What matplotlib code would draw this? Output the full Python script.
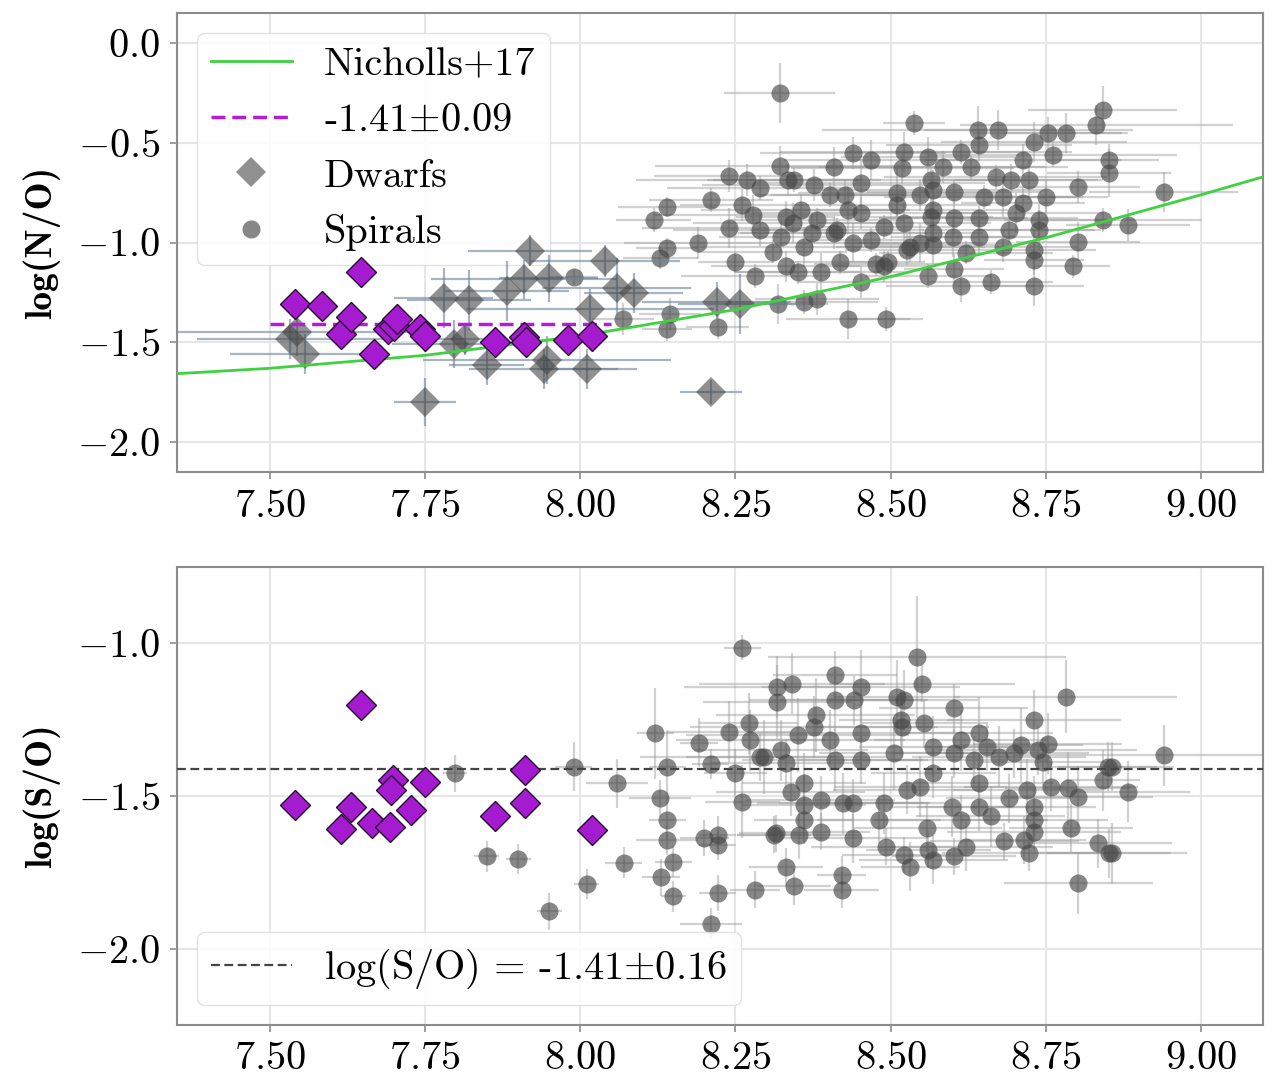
import matplotlib.pyplot as plt
import numpy as np

plt.rcParams['font.family'] = ['cmr10', 'DejaVu Serif']
plt.rcParams['mathtext.fontset'] = 'cm'
plt.rcParams['axes.formatter.use_mathtext'] = True

# --- Nicholls+17 curve
nich_x = [7.35, 7.50, 7.75, 8.00, 8.25, 8.50, 8.75, 9.00, 9.10]
nich_y = [-1.657, -1.630, -1.565, -1.468, -1.336, -1.171, -0.976, -0.761, -0.671]

# --- mean values
no_mean = -1.41
no_span = [7.50, 8.05]
so_mean = -1.41

# --- this sample (purple diamonds)
samp_no_x = [7.540, 7.584, 7.615, 7.630, 7.647, 7.667, 7.690, 7.700, 7.705, 7.742, 7.750, 7.863, 7.909, 7.912, 7.980, 8.018]
samp_no_y = [-1.31, -1.318, -1.46, -1.375, -1.15, -1.56, -1.435, -1.42, -1.385, -1.435, -1.47, -1.50, -1.475, -1.50, -1.49, -1.47]
samp_so_x = [7.540, 7.647, 7.630, 7.614, 7.664, 7.693, 7.698, 7.695, 7.727, 7.749, 7.863, 7.910, 7.910, 8.019]
samp_so_y = [-1.529, -1.203, -1.535, -1.609, -1.589, -1.600, -1.448, -1.480, -1.546, -1.453, -1.567, -1.415, -1.524, -1.611]

# --- dwarfs (top panel only)
dw_x = [7.532, 7.543, 7.556, 7.750, 7.780, 7.796, 7.814, 7.820, 7.849, 7.882, 7.909, 7.919,
        7.941, 7.946, 7.949, 8.011, 8.016, 8.040, 8.059, 8.086, 8.210, 8.220, 8.258]
dw_y = [-1.485, -1.45, -1.56, -1.80, -1.28, -1.51, -1.485, -1.29, -1.615, -1.243, -1.185, -1.04,
        -1.635, -1.59, -1.18, -1.635, -1.335, -1.093, -1.227, -1.252, -1.75, -1.30, -1.31]
dw_xerr = [0.15, 0.22, 0.12, 0.05, 0.08, 0.10, 0.06, 0.10, 0.06, 0.10, 0.15, 0.10,
           0.12, 0.20, 0.08, 0.08, 0.20, 0.12, 0.12, 0.08, 0.05, 0.12, 0.10]
dw_yerr = [0.10, 0.12, 0.10, 0.12, 0.15, 0.12, 0.08, 0.15, 0.10, 0.15, 0.10, 0.08,
           0.10, 0.12, 0.12, 0.10, 0.10, 0.08, 0.15, 0.10, 0.06, 0.10, 0.15]

# --- spirals, N/O
sp_no_x = [8.321, 8.239, 8.210, 8.140, 8.118, 8.140, 8.129, 8.190, 8.239, 8.269,
           8.290, 8.261, 8.279, 8.321, 8.334, 8.344, 8.376, 8.408, 8.440, 8.452,
           8.403, 8.331, 8.342, 8.382, 8.323, 8.310, 8.360, 8.408, 8.432, 8.452,
           8.419, 8.331, 8.350, 8.387, 8.250, 8.282, 8.452, 8.319, 8.360, 8.382,
           8.431, 8.492, 8.145, 8.140, 8.069, 8.221, 8.521, 8.519, 8.537, 8.511,
           8.489, 8.521, 8.527, 8.489, 8.440, 7.989, 8.640, 8.673, 8.642, 8.613,
           8.560, 8.585, 8.629, 8.731, 8.753, 8.782, 8.761, 8.713, 8.842, 8.831,
           8.852, 8.852, 8.802, 8.940, 8.669, 8.694, 8.723, 8.750, 8.650, 8.681,
           8.713, 8.602, 8.569, 8.548, 8.511, 8.565, 8.602, 8.642, 8.702, 8.739,
           8.739, 8.690, 8.642, 8.600, 8.569, 8.532, 8.569, 8.621, 8.681, 8.731,
           8.731, 8.802, 8.842, 8.882, 8.794, 8.602, 8.561, 8.613, 8.661, 8.731,
           8.495, 8.468, 8.427, 8.468, 8.355, 8.476, 8.290, 8.374, 8.565, 8.569,
           8.414, 8.548]
sp_no_y = [-0.25, -0.665, -0.785, -0.82, -0.885, -1.025, -1.075, -1.00, -0.925, -0.685,
           -0.725, -0.81, -0.86, -0.615, -0.685, -0.685, -0.71, -0.62, -0.55, -0.70,
           -0.76, -0.87, -0.90, -0.885, -0.97, -1.045, -1.02, -0.95, -0.835, -0.85,
           -1.10, -1.12, -1.15, -1.15, -1.10, -1.17, -1.20, -1.31, -1.30, -1.285,
           -1.385, -1.385, -1.36, -1.435, -1.385, -1.425, -0.545, -0.625, -0.40, -0.75,
           -0.92, -0.90, -1.035, -1.12, -1.00, -1.175, -0.435, -0.435, -0.51, -0.545,
           -0.57, -0.62, -0.62, -0.495, -0.45, -0.45, -0.56, -0.585, -0.335, -0.41,
           -0.585, -0.65, -0.72, -0.745, -0.67, -0.685, -0.685, -0.77, -0.77, -0.77,
           -0.80, -0.745, -0.735, -0.76, -0.81, -0.87, -0.875, -0.875, -0.85, -0.885,
           -0.935, -0.935, -0.97, -0.97, -0.95, -1.02, -1.01, -1.05, -1.02, -1.035,
           -1.085, -0.995, -0.885, -0.91, -1.12, -1.135, -1.17, -1.22, -1.20, -1.22,
           -1.10, -0.585, -0.76, -0.985, -0.835, -1.11, -0.935, -0.95, -0.685, -0.835,
           -0.935, -1.00]
sp_no_xerr = [0.09, 0.12, 0.10, 0.08, 0.06, 0.05, 0.06, 0.12, 0.14, 0.18,
              0.15, 0.10, 0.16, 0.20, 0.12, 0.14, 0.18, 0.10, 0.15, 0.20,
              0.12, 0.08, 0.16, 0.14, 0.10, 0.12, 0.18, 0.15, 0.10, 0.20,
              0.08, 0.12, 0.10, 0.14, 0.06, 0.12, 0.10, 0.08, 0.12, 0.10,
              0.10, 0.06, 0.05, 0.04, 0.05, 0.05, 0.20, 0.18, 0.05, 0.16,
              0.12, 0.14, 0.10, 0.08, 0.12, 0.04, 0.25, 0.12, 0.15, 0.18,
              0.14, 0.20, 0.12, 0.15, 0.12, 0.10, 0.20, 0.16, 0.12, 0.22,
              0.08, 0.10, 0.10, 0.12, 0.18, 0.14, 0.12, 0.10, 0.16, 0.12,
              0.10, 0.14, 0.18, 0.12, 0.15, 0.10, 0.12, 0.16, 0.14, 0.12,
              0.10, 0.14, 0.12, 0.10, 0.08, 0.12, 0.10, 0.14, 0.12, 0.10,
              0.08, 0.10, 0.16, 0.10, 0.06, 0.08, 0.10, 0.12, 0.10, 0.08,
              0.06, 0.14, 0.12, 0.10, 0.16, 0.10, 0.14, 0.12, 0.10, 0.12,
              0.14, 0.10]
sp_no_yerr = [0.15, 0.08, 0.06, 0.05, 0.06, 0.05, 0.06, 0.08, 0.10, 0.08,
              0.06, 0.08, 0.10, 0.10, 0.08, 0.06, 0.08, 0.10, 0.08, 0.12,
              0.06, 0.08, 0.10, 0.06, 0.08, 0.06, 0.10, 0.08, 0.12, 0.08,
              0.06, 0.08, 0.06, 0.10, 0.05, 0.06, 0.08, 0.10, 0.06, 0.08,
              0.10, 0.06, 0.08, 0.06, 0.08, 0.06, 0.10, 0.08, 0.06, 0.12,
              0.06, 0.10, 0.08, 0.08, 0.10, 0.04, 0.12, 0.10, 0.08, 0.06,
              0.10, 0.08, 0.06, 0.10, 0.08, 0.10, 0.06, 0.08, 0.12, 0.10,
              0.08, 0.12, 0.08, 0.10, 0.06, 0.08, 0.10, 0.08, 0.06, 0.10,
              0.08, 0.06, 0.10, 0.08, 0.06, 0.10, 0.08, 0.06, 0.10, 0.08,
              0.10, 0.06, 0.08, 0.10, 0.06, 0.08, 0.10, 0.06, 0.08, 0.10,
              0.08, 0.10, 0.06, 0.08, 0.06, 0.08, 0.06, 0.08, 0.06, 0.10,
              0.06, 0.10, 0.08, 0.06, 0.08, 0.06, 0.08, 0.10, 0.06, 0.08,
              0.06, 0.10]

# --- spirals, S/O
sp_so_x = [7.798, 7.849, 7.900, 7.950, 7.989, 8.010, 8.059, 8.070, 8.121, 8.140,
           8.129, 8.140, 8.140, 8.150, 8.130, 8.150, 8.191, 8.210, 8.200, 8.221,
           8.221, 8.221, 8.210, 8.261, 8.239, 8.271, 8.274, 8.290, 8.250, 8.261,
           8.315, 8.281, 8.317, 8.317, 8.542, 8.551, 8.411, 8.341, 8.411, 8.441,
           8.452, 8.511, 8.521, 8.602, 8.731, 8.782, 8.941, 8.379, 8.376, 8.350,
           8.323, 8.296, 8.331, 8.411, 8.452, 8.452, 8.403, 8.505, 8.519, 8.554,
           8.569, 8.602, 8.613, 8.642, 8.656, 8.675, 8.699, 8.710, 8.737, 8.753,
           8.745, 8.850, 8.842, 8.882, 8.802, 8.785, 8.758, 8.720, 8.690, 8.642,
           8.569, 8.548, 8.527, 8.489, 8.440, 8.424, 8.387, 8.360, 8.339, 8.360,
           8.360, 8.312, 8.352, 8.387, 8.440, 8.481, 8.559, 8.599, 8.613, 8.661,
           8.642, 8.731, 8.731, 8.731, 8.790, 8.492, 8.521, 8.532, 8.561, 8.569,
           8.602, 8.621, 8.683, 8.715, 8.723, 8.834, 8.852, 8.802, 8.331, 8.344,
           8.421, 8.421, 8.634, 8.516, 8.857, 8.857]
sp_so_y = [-1.426, -1.698, -1.707, -1.878, -1.404, -1.788, -1.459, -1.718, -1.295, -1.404,
           -1.508, -1.578, -1.644, -1.715, -1.766, -1.829, -1.326, -1.395, -1.638, -1.627,
           -1.660, -1.818, -1.918, -1.014, -1.290, -1.262, -1.317, -1.372, -1.426, -1.519,
           -1.622, -1.807, -1.143, -1.192, -1.045, -1.132, -1.105, -1.132, -1.186, -1.186,
           -1.143, -1.175, -1.186, -1.213, -1.252, -1.175, -1.366, -1.235, -1.274, -1.300,
           -1.350, -1.372, -1.393, -1.382, -1.295, -1.382, -1.317, -1.360, -1.274, -1.262,
           -1.339, -1.360, -1.317, -1.295, -1.339, -1.372, -1.360, -1.333, -1.350, -1.328,
           -1.388, -1.404, -1.448, -1.486, -1.502, -1.475, -1.470, -1.480, -1.508, -1.459,
           -1.426, -1.470, -1.480, -1.524, -1.524, -1.524, -1.513, -1.459, -1.486, -1.529,
           -1.578, -1.627, -1.627, -1.617, -1.638, -1.578, -1.605, -1.535, -1.578, -1.567,
           -1.535, -1.535, -1.578, -1.617, -1.605, -1.666, -1.693, -1.731, -1.676, -1.709,
           -1.698, -1.666, -1.649, -1.644, -1.687, -1.655, -1.687, -1.785, -1.731, -1.796,
           -1.758, -1.807, -1.382, -1.252, -1.404, -1.687]
sp_so_xerr = [0.02, 0.02, 0.02, 0.02, 0.03, 0.02, 0.05, 0.03, 0.03, 0.03,
              0.05, 0.03, 0.05, 0.03, 0.03, 0.02, 0.03, 0.03, 0.04, 0.03,
              0.03, 0.03, 0.05, 0.03, 0.10, 0.08, 0.12, 0.12, 0.05, 0.06,
              0.06, 0.04, 0.15, 0.12, 0.24, 0.15, 0.10, 0.15, 0.14, 0.12,
              0.16, 0.10, 0.12, 0.12, 0.14, 0.18, 0.24, 0.16, 0.20, 0.18,
              0.14, 0.20, 0.12, 0.15, 0.18, 0.10, 0.12, 0.12, 0.14, 0.10,
              0.12, 0.10, 0.14, 0.12, 0.10, 0.14, 0.12, 0.10, 0.16, 0.12,
              0.10, 0.08, 0.06, 0.10, 0.12, 0.10, 0.14, 0.12, 0.10, 0.12,
              0.10, 0.14, 0.12, 0.10, 0.12, 0.14, 0.12, 0.10, 0.12, 0.10,
              0.08, 0.06, 0.10, 0.08, 0.12, 0.10, 0.12, 0.10, 0.14, 0.12,
              0.10, 0.10, 0.12, 0.14, 0.10, 0.12, 0.10, 0.08, 0.10, 0.12,
              0.10, 0.14, 0.12, 0.10, 0.14, 0.12, 0.10, 0.12, 0.06, 0.06,
              0.04, 0.06, 0.12, 0.10, 0.10, 0.12]
sp_so_yerr = [0.06, 0.05, 0.05, 0.06, 0.08, 0.05, 0.08, 0.05, 0.15, 0.12,
              0.06, 0.06, 0.05, 0.05, 0.06, 0.05, 0.08, 0.05, 0.06, 0.06,
              0.05, 0.06, 0.05, 0.04, 0.10, 0.10, 0.10, 0.08, 0.08, 0.12,
              0.06, 0.06, 0.10, 0.12, 0.20, 0.06, 0.08, 0.10, 0.10, 0.08,
              0.12, 0.12, 0.10, 0.08, 0.10, 0.12, 0.10, 0.12, 0.10, 0.12,
              0.10, 0.12, 0.08, 0.10, 0.12, 0.08, 0.10, 0.12, 0.10, 0.08,
              0.10, 0.08, 0.10, 0.12, 0.08, 0.10, 0.08, 0.12, 0.08, 0.10,
              0.08, 0.08, 0.10, 0.10, 0.10, 0.12, 0.08, 0.10, 0.08, 0.10,
              0.08, 0.10, 0.08, 0.10, 0.08, 0.10, 0.08, 0.10, 0.08, 0.10,
              0.08, 0.06, 0.08, 0.06, 0.08, 0.08, 0.08, 0.10, 0.08, 0.10,
              0.08, 0.10, 0.08, 0.06, 0.08, 0.06, 0.06, 0.08, 0.06, 0.08,
              0.06, 0.08, 0.06, 0.08, 0.06, 0.08, 0.08, 0.10, 0.06, 0.06,
              0.06, 0.06, 0.08, 0.10, 0.08, 0.10]

ticks_x = [7.50, 7.75, 8.00, 8.25, 8.50, 8.75, 9.00]

purple = '#a51bcf'
grey_mk = '#474747'
fs = 29

fig = plt.figure(figsize=(12.76, 10.77), dpi=100)
ax1 = fig.add_axes([0.1387, 0.5617, 0.8511, 0.4262])
ax2 = fig.add_axes([0.1387, 0.0483, 0.8511, 0.4252])

def styleAxis(ax):
    ax.grid(True, color='#e6e6e6', linewidth=1.5)
    ax.set_axisbelow(True)
    for s in ax.spines.values():
        s.set_color('#8c8c8c')
        s.set_linewidth(1.5)
    ax.tick_params(direction='out', length=5, width=1.2, color='#8c8c8c',
                   labelsize=fs, pad=7)
    ax.set_xlim(7.35, 9.10)
    ax.set_xticks(ticks_x)

# top panel: N/O
ax = ax1
styleAxis(ax)
ax.errorbar(sp_no_x, sp_no_y, xerr=sp_no_xerr, yerr=sp_no_yerr, fmt='none',
            ecolor='#9a9a9a', elinewidth=1.6, alpha=0.45, zorder=2)
ax.plot(sp_no_x, sp_no_y, 'o', ms=13, color=grey_mk, alpha=0.65, mew=0,
        zorder=3, label='Spirals')
ax.errorbar(dw_x, dw_y, xerr=dw_xerr, yerr=dw_yerr, fmt='none',
            ecolor='#6f8298', elinewidth=1.6, alpha=0.6, zorder=4)
ax.plot(dw_x, dw_y, 'D', ms=15, color=grey_mk, alpha=0.6, mew=0,
        zorder=5, label='Dwarfs')
ax.plot(nich_x, nich_y, '-', color='#3fd13f', lw=2, zorder=6, label='Nicholls+17')
ax.plot(no_span, [no_mean, no_mean], '--', color='#b21ed6', lw=2.5, dashes=(4, 2),
        zorder=6, label='-1.41$\\pm$0.09')
ax.plot(samp_no_x, samp_no_y, 'D', ms=15, color=purple, mec='#2a0a33', mew=1.0, zorder=8)
ax.set_ylim(-2.15, 0.15)
ax.set_yticks([0.0, -0.5, -1.0, -1.5, -2.0])
ax.set_ylabel('log(N/O)', family='cmb10', fontsize=27, labelpad=12)
h, l = ax.get_legend_handles_labels()
order = [l.index('Nicholls+17'), l.index('-1.41$\\pm$0.09'), l.index('Dwarfs'), l.index('Spirals')]
leg = ax.legend([h[i] for i in order], [l[i] for i in order], loc='upper left',
                fontsize=fs, handlelength=2.0, labelspacing=0.48, handletextpad=0.8,
                borderpad=0.35, framealpha=0.85, edgecolor='#dddddd')
# data points sit on top of the legend box
leg.set_zorder(1.5)

# bottom panel: S/O
ax = ax2
styleAxis(ax)
ax.errorbar(sp_so_x, sp_so_y, xerr=sp_so_xerr, yerr=sp_so_yerr, fmt='none',
            ecolor='#9a9a9a', elinewidth=1.6, alpha=0.45, zorder=2)
ax.plot(sp_so_x, sp_so_y, 'o', ms=13, color=grey_mk, alpha=0.65, mew=0, zorder=3)
ax.axhline(so_mean, color='#444444', ls='--', lw=1.6, dashes=(4, 2), zorder=4,
           label='log(S/O) = -1.41$\\pm$0.16')
ax.plot(samp_so_x, samp_so_y, 'D', ms=15, color=purple, mec='#2a0a33', mew=1.0, zorder=8)
ax.set_ylim(-2.25, -0.75)
ax.set_yticks([-1.0, -1.5, -2.0])
ax.set_ylabel('log(S/O)', family='cmb10', fontsize=27, labelpad=12)
ax.legend(loc='lower left', fontsize=fs, handlelength=2.0, handletextpad=0.8,
          borderpad=0.35, framealpha=0.85, edgecolor='#dddddd')

fig.savefig('out.png', dpi=100)
